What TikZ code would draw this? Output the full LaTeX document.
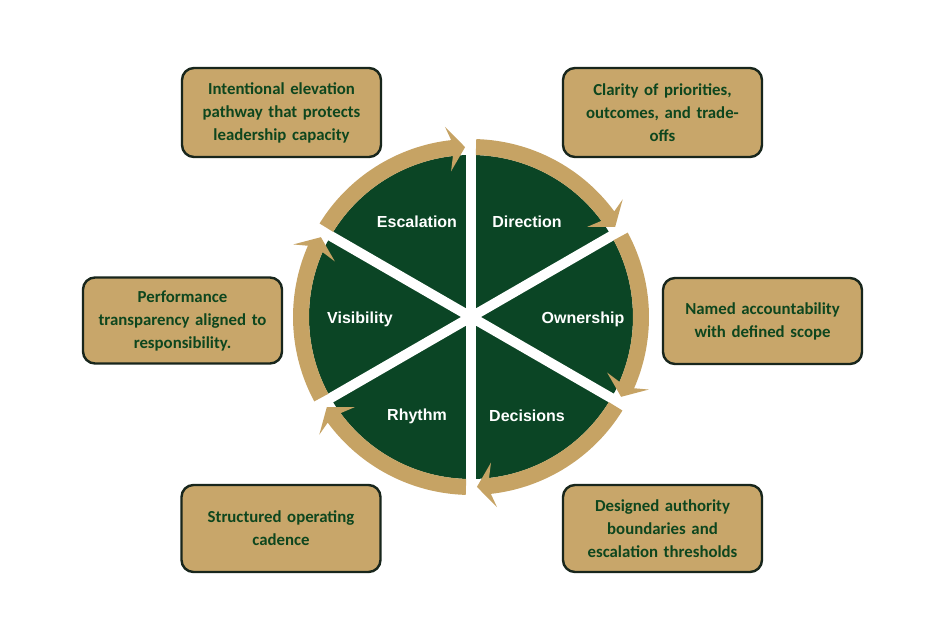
\documentclass[tikz,border=0pt]{standalone}
\usepackage{fontspec}
\setmainfont{Carlito}
\newfontfamily\segfont{Liberation Sans}
\definecolor{ringgold}{RGB}{198,163,100}
\definecolor{boxgold}{RGB}{200,166,106}
\definecolor{piegreen}{RGB}{11,69,37}
\definecolor{txtgreen}{RGB}{14,70,30}
\definecolor{boxline}{RGB}{24,38,28}
\newcommand\ringarrow[2]{%
  \pgfmathsetmacro\rnotch{#2+4.4}%
  \pgfmathsetmacro\rbarb{#2+5.8}%
  \fill[ringgold] (#1:178) arc[start angle=#1, end angle=\rnotch, radius=178]
    -- (\rbarb:192) -- (#2:170) -- (\rbarb:147) -- (\rnotch:162)
    arc[start angle=\rnotch, end angle=#1, radius=162] -- cycle;}
\tikzset{
  infobox/.style={draw=boxline, line width=2.4pt, fill=boxgold, rounded corners=12pt,
    minimum width=199pt, text width=185pt, align=center, inner sep=0pt,
    text=txtgreen, font=\bfseries\fontsize{16.8}{23}\selectfont},
  seglabel/.style={text=white, font=\segfont\bfseries\fontsize{16}{19}\selectfont, inner sep=0pt}
}
\begin{document}
\begin{tikzpicture}[x=1pt,y=1pt]
\useasboundingbox (0,0) rectangle (940,637);
\fill[white] (0,0) rectangle (940,637);
\begin{scope}[shift={(471,320)}]
  \coordinate (c) at (0,0);
  \fill[piegreen] (c) circle[radius=162];
  \draw[white, line width=10pt] (90:164) -- (-90:164);
  \draw[white, line width=10pt] (30:164) -- (210:164);
  \draw[white, line width=10pt] (150:164) -- (-30:164);
  \ringarrow{148.3}{92}
  \ringarrow{88.3}{32}
  \ringarrow{28.3}{-28}
  \ringarrow{-31.7}{-88}
  \ringarrow{-91.7}{-148}
  \ringarrow{-151.7}{-208}
\end{scope}
\node[seglabel] (lesc) at (417,415) {Escalation};
\node[seglabel] (ldir) at (527,415) {Direction};
\node[seglabel] (lvis) at (360,318) {Visibility};
\node[seglabel] (lown) at (583,318) {Ownership};
\node[seglabel] (lrhy) at (417,221) {Rhythm};
\node[seglabel] (ldec) at (527,221) {Decisions};
\node[infobox, minimum height=89pt] (btl) at (281.5,524.5) {Intentional elevation\\pathway that protects\\leadership capacity};
\node[infobox, minimum height=89pt] (btr) at (662.5,524.5) {Clarity of priorities,\\outcomes, and trade-\\offs};
\node[infobox, minimum height=86pt] (bl) at (182.5,316.5) {Performance\\transparency aligned to\\responsibility.};
\node[infobox, minimum height=86pt] (br) at (762.5,316) {Named accountability\\with defined scope};
\node[infobox, minimum height=87pt] (bbl) at (281,108.5) {Structured operating\\cadence};
\node[infobox, minimum height=87pt] (bbr) at (662.5,108.5) {Designed authority\\boundaries and\\escalation thresholds};
\end{tikzpicture}
\end{document}
